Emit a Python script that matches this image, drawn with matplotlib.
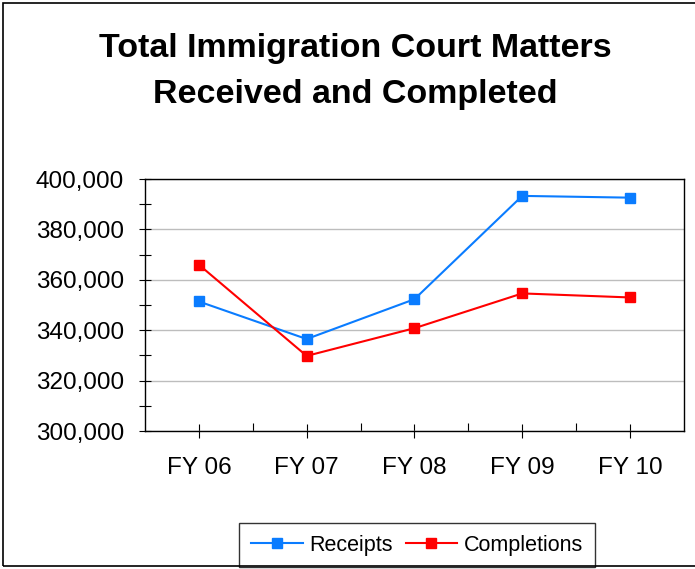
import numpy as np
import matplotlib
matplotlib.use("Agg")
import matplotlib.pyplot as plt
from matplotlib.ticker import FuncFormatter, MultipleLocator, FixedLocator
from matplotlib.patches import Rectangle

plt.rcParams['font.family'] = ['Liberation Sans', 'DejaVu Sans']

# values
years = ["FY 06", "FY 07", "FY 08", "FY 09", "FY 10"]
receipts = [351400, 336500, 352300, 393300, 392600]
completions = [366000, 329800, 340800, 354600, 353000]

fig = plt.figure(figsize=(6.95, 5.69), dpi=100)

# outer frame of the chart area (left, top, bottom visible)
fig.patches.append(Rectangle((0.005, 0.005), 1.2, 0.99, transform=fig.transFigure,
                             fill=False, edgecolor="black", linewidth=1.2, zorder=10))

ax = fig.add_axes([0.2086, 0.2425, 0.7754, 0.4429])
x = np.arange(len(years))

ax.plot(x, receipts, color="#0A7CFF", marker="s", markersize=7, linewidth=1.5, label="Receipts")
ax.plot(x, completions, color="#FF0000", marker="s", markersize=7, linewidth=1.5, label="Completions")

ax.set_xlim(-0.5, len(years) - 0.5)
ax.set_ylim(300000, 400000)

ax.yaxis.set_major_locator(MultipleLocator(20000))
ax.yaxis.set_minor_locator(MultipleLocator(10000))
ax.yaxis.set_major_formatter(FuncFormatter(lambda v, p: f"{int(v):,}"))
ax.set_xticks(x)
ax.set_xticklabels(years)
ax.xaxis.set_minor_locator(FixedLocator(x[:-1] + 0.5))

ax.tick_params(axis="y", which="both", direction="inout", length=8, width=0.8, labelsize=17.5, pad=11)
ax.tick_params(axis="x", which="major", direction="inout", length=10, width=0.8, labelsize=17.5, pad=14)
ax.tick_params(axis="x", which="minor", direction="in", length=6, width=0.8)

ax.grid(axis="y", which="major", color="#BDBDBD", linewidth=1)
ax.set_axisbelow(True)
for s in ax.spines.values():
    s.set_linewidth(1.0)

fig.text(0.511, 0.874, "Total Immigration Court Matters\nReceived and Completed",
         ha="center", va="center", fontsize=24.5, fontweight="bold", linespacing=1.6)

fig.legend(loc="center", bbox_to_anchor=(0.6, 0.042), ncol=2, fontsize=15.5,
           frameon=True, fancybox=False, edgecolor="black", handlelength=2.4,
           columnspacing=0.6, handletextpad=0.3, borderpad=0.55)

fig.savefig("out.png", dpi=100)
